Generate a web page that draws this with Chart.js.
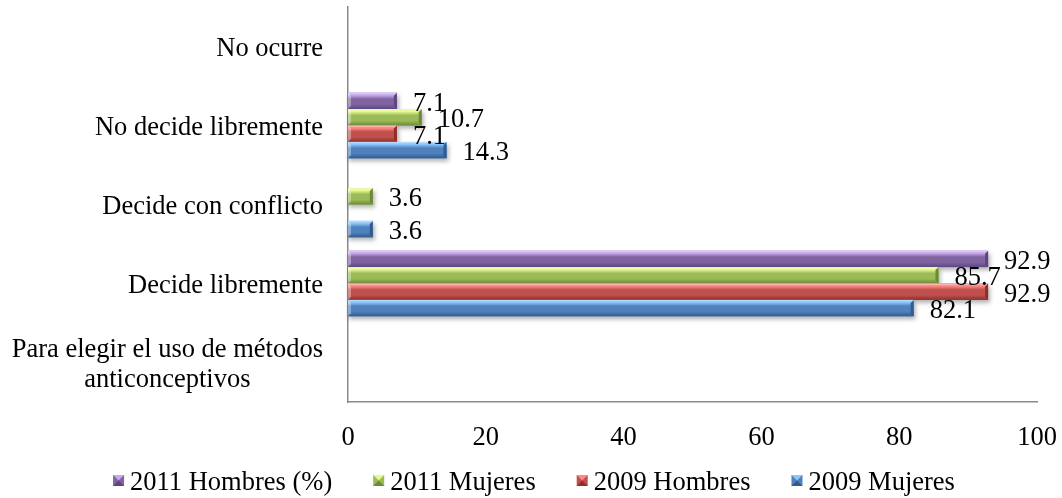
<!DOCTYPE html>
<html><head><meta charset="utf-8">
<script src="https://cdn.jsdelivr.net/npm/chart.js@4.4.0/dist/chart.umd.min.js"></script>
<style>html,body{margin:0;padding:0;background:#fff;}</style>
</head><body>
<canvas id="c" width="1062" height="498"></canvas>
<script>
const categories = ["No ocurre", "No decide libremente", "Decide con conflicto", "Decide libremente", ["Para elegir el uso de métodos", "anticonceptivos"]];
const seriesNames = ["2011 Hombres (%)", "2011 Mujeres", "2009 Hombres", "2009 Mujeres"];
const hombres2011 = [null, 7.1, null, 92.9, null];
const mujeres2011 = [null, 10.7, 3.6, 85.7, null];
const hombres2009 = [null, 7.1, null, 92.9, null];
const mujeres2009 = [null, 14.3, 3.6, 82.1, null];
const xTicks = [0, 20, 40, 60, 80, 100];
const baseColors = ['#8064A2', '#9BBB59', '#C0504D', '#4F81BD'];
const lightColors = ['#C7A9EC', '#E4FA8E', '#FF8B88', '#8CC6FA'];
const darkColors = ['#5C4680', '#6C8936', '#8E2F2C', '#2F5B90'];

const FONT = '"Liberation Serif", "Times New Roman", serif';
const FS = 26.5;

function rectOf(el) {
  const p = el.getProps(['x', 'y', 'base', 'height'], true);
  return { l: Math.min(p.x, p.base), r: Math.max(p.x, p.base), t: p.y - p.height / 2, b: p.y + p.height / 2, y: p.y, x: p.x };
}
function eachBar(chart, fn) {
  chart.data.datasets.forEach((ds, di) => {
    const meta = chart.getDatasetMeta(di);
    if (!chart.isDatasetVisible(di)) return;
    meta.data.forEach((el, i) => {
      const v = ds.data[i];
      if (v === null || v === undefined) return;
      fn(el, di, i, v);
    });
  });
}

const bevelPlugin = {
  id: 'bevel',
  beforeDatasetsDraw(chart) {
    const ctx = chart.ctx;
    ctx.save();
    ctx.filter = 'blur(2px)';
    ctx.fillStyle = 'rgba(0,0,0,0.30)';
    eachBar(chart, (el) => {
      const r = rectOf(el);
      ctx.fillRect(r.l + 1, r.t + 3, r.r - r.l + 1, r.b - r.t);
    });
    ctx.restore();
  },
  afterDatasetsDraw(chart) {
    const ctx = chart.ctx;
    ctx.save();
    eachBar(chart, (el, di) => {
      const r = rectOf(el);
      const h = r.b - r.t, w = r.r - r.l;
      const g = ctx.createLinearGradient(0, r.t, 0, r.b);
      g.addColorStop(0, lightColors[di]);
      g.addColorStop(0.15, lightColors[di]);
      g.addColorStop(0.38, baseColors[di]);
      g.addColorStop(0.7, baseColors[di]);
      g.addColorStop(1, darkColors[di]);
      ctx.fillStyle = g;
      ctx.fillRect(r.l, r.t, w, h);
      ctx.fillStyle = 'rgba(255,255,255,0.35)';
      ctx.fillRect(r.l, r.t, w, 1.5);
      const bw = Math.min(3, w / 2);
      ctx.fillStyle = darkColors[di];
      ctx.beginPath();
      ctx.moveTo(r.r - bw, r.t + bw);
      ctx.lineTo(r.r, r.t);
      ctx.lineTo(r.r, r.b);
      ctx.lineTo(r.r - bw, r.b - bw);
      ctx.closePath();
      ctx.fill();
      ctx.fillStyle = 'rgba(255,255,255,0.35)';
      ctx.beginPath();
      ctx.moveTo(r.l, r.t);
      ctx.lineTo(r.l + bw, r.t + bw);
      ctx.lineTo(r.l + bw, r.b - bw);
      ctx.lineTo(r.l, r.b);
      ctx.closePath();
      ctx.fill();
    });
    ctx.fillStyle = '#000';
    ctx.font = FS + 'px ' + FONT;
    ctx.textAlign = 'left';
    ctx.textBaseline = 'middle';
    eachBar(chart, (el, di, i, v) => {
      const r = rectOf(el);
      ctx.fillText(v.toFixed(1), r.r + 16, r.y + 3);
    });
    ctx.restore();
  }
};

const labelPlugin = {
  id: 'catLabels',
  afterDraw(chart) {
    const ctx = chart.ctx;
    const ys = chart.scales.y;
    ctx.save();
    ctx.fillStyle = '#000';
    ctx.font = FS + 'px ' + FONT;
    ctx.textBaseline = 'middle';
    const rightEdge = ys.right - 25;
    const lh = 30;
    categories.forEach((lab, i) => {
      const lines = Array.isArray(lab) ? lab : [lab];
      const cy = ys.getPixelForTick(i) + 3;
      const maxW = Math.max(...lines.map(s => ctx.measureText(s).width));
      const cx = rightEdge - maxW / 2;
      ctx.textAlign = 'center';
      lines.forEach((s, k) => {
        const y = cy + (k - (lines.length - 1) / 2) * lh;
        ctx.fillText(s, cx, y);
      });
    });
    const ly = 483;
    const box = 11, gap = 6, spacing = 41;
    const widths = seriesNames.map(s => ctx.measureText(s).width);
    const total = widths.reduce((a, b) => a + b, 0) + seriesNames.length * (box + gap) + (seriesNames.length - 1) * spacing;
    let x = 534 - total / 2;
    ctx.textAlign = 'left';
    seriesNames.forEach((s, k) => {
      const bx = x, by = ly - 8;
      ctx.fillStyle = baseColors[k];
      ctx.fillRect(bx, by, box, box);
      ctx.fillStyle = lightColors[k];
      ctx.beginPath(); ctx.moveTo(bx, by); ctx.lineTo(bx + box, by); ctx.lineTo(bx + box / 2, by + box / 2); ctx.closePath(); ctx.fill();
      ctx.fillStyle = darkColors[k];
      ctx.beginPath(); ctx.moveTo(bx, by + box); ctx.lineTo(bx + box, by + box); ctx.lineTo(bx + box / 2, by + box / 2); ctx.closePath(); ctx.fill();
      ctx.fillStyle = '#000';
      ctx.fillText(s, bx + box + gap, ly);
      x += box + gap + widths[k] + spacing;
    });
    ctx.restore();
  }
};

new Chart(document.getElementById('c'), {
  type: 'bar',
  data: {
    labels: categories,
    datasets: [
      { label: seriesNames[0], data: hombres2011, backgroundColor: baseColors[0] },
      { label: seriesNames[1], data: mujeres2011, backgroundColor: baseColors[1] },
      { label: seriesNames[2], data: hombres2009, backgroundColor: baseColors[2] },
      { label: seriesNames[3], data: mujeres2009, backgroundColor: baseColors[3] }
    ]
  },
  options: {
    indexAxis: 'y',
    responsive: false,
    animation: false,
    devicePixelRatio: 1,
    layout: { padding: { top: 7, right: 25, bottom: 0, left: 0 } },
    datasets: { bar: { categoryPercentage: 0.83, barPercentage: 1.0, borderWidth: 0 } },
    plugins: { legend: { display: false }, tooltip: { enabled: false } },
    scales: {
      x: {
        min: 0, max: 100,
        afterBuildTicks: s => { s.ticks = xTicks.map(v => ({ value: v })); },
        grid: { display: false, drawTicks: false },
        border: { display: true, color: '#8a8a8a', width: 1.5 },
        ticks: { color: '#000', font: { family: FONT, size: FS }, padding: 20, maxRotation: 0 },
        afterFit: s => { s.height = 96; s.paddingLeft = 0; s.paddingRight = 0; }
      },
      y: {
        grid: { display: false, drawTicks: false },
        border: { display: true, color: '#8a8a8a', width: 1.5 },
        ticks: { display: false },
        afterFit: s => { s.width = 348; s.paddingTop = 0; s.paddingBottom = 0; }
      }
    }
  },
  plugins: [bevelPlugin, labelPlugin]
});
</script>
</body></html>
